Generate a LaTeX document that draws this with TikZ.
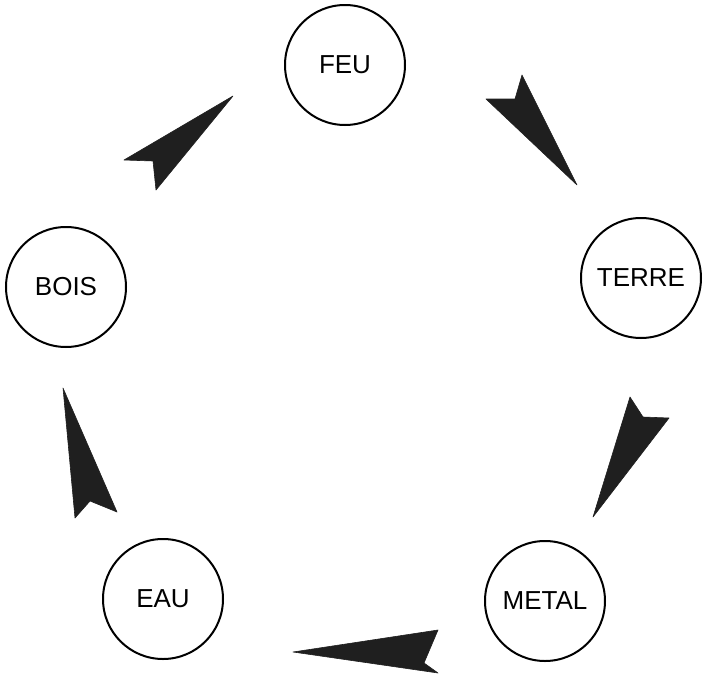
\documentclass[tikz,border=0pt]{standalone}
\usepackage{fontspec}
\setmainfont{Liberation Sans}
\begin{document}
\begin{tikzpicture}[x=1pt,y=-1pt,
  element/.style={circle,draw=black,line width=2pt,minimum size=120pt,inner sep=0pt,
    font=\fontsize{26}{30}\selectfont},
  dart/.style={fill=black!88,draw=black!88,line width=0.6pt,line join=round}]
\useasboundingbox (0,0) rectangle (705,675);
\node[element] (feu)   at (345,65)  {FEU};
\node[element] (terre) at (641,278) {TERRE};
\node[element] (metal) at (545,601) {METAL};
\node[element] (eau)   at (163,599) {EAU};
\node[element] (bois)  at (66,287)  {BOIS};
% darts between the elements
\fill[dart] (233,96) -- (124,160) -- (153,161) -- (156,190) -- cycle;
\fill[dart] (577,185) -- (486,99) -- (515,99) -- (522,75) -- cycle;
\fill[dart] (593,517) -- (630,397) -- (643,417) -- (669,418) -- cycle;
\fill[dart] (293,652) -- (438,630) -- (424,663) -- (438,673) -- cycle;
\fill[dart] (63,388) -- (75,518) -- (90,501) -- (117,512) -- cycle;
\end{tikzpicture}
\end{document}
